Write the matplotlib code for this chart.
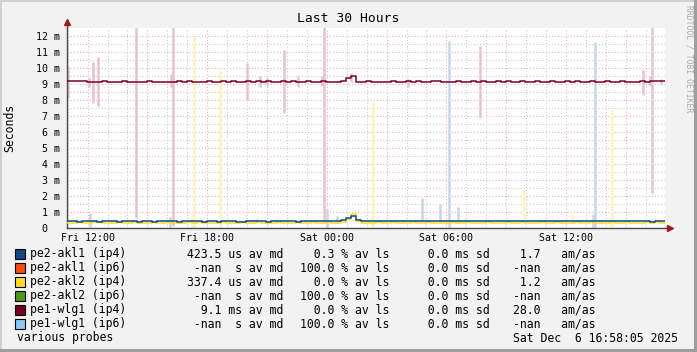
# plot.py - SmokePing style "Last 30 Hours" multi-probe latency graph
import pandas as pd
import numpy as np
import matplotlib
matplotlib.use("Agg")
import matplotlib.pyplot as plt
import matplotlib.dates as mdates
from matplotlib.patches import Rectangle

plt.rcParams["font.family"] = ["DejaVu Sans Mono", "DejaVu Sans"]

W, H = 697, 352
start = pd.Timestamp("2025-12-05 10:58:05")
t = pd.date_range(start, periods=121, freq="15min")

# median RTT, milliseconds, one value per 15 min
wlg1_v4 = [
    9.19, 9.19, 9.19, 9.19, 9.13, 9.13, 9.13, 9.16, 9.13, 9.13,
    9.13, 9.17, 9.13, 9.13, 9.13, 9.13, 9.17, 9.13, 9.13, 9.13,
    9.13, 9.13, 9.17, 9.13, 9.17, 9.13, 9.13, 9.13, 9.19, 9.13,
    9.13, 9.19, 9.13, 9.19, 9.13, 9.13, 9.19, 9.13, 9.19, 9.13,
    9.19, 9.13, 9.13, 9.19, 9.13, 9.19, 9.13, 9.13, 9.19, 9.13,
    9.13, 9.19, 9.13, 9.13, 9.13, 9.19, 9.35, 9.50, 9.13, 9.13,
    9.19, 9.13, 9.13, 9.13, 9.13, 9.19, 9.13, 9.13, 9.19, 9.13,
    9.19, 9.13, 9.13, 9.19, 9.19, 9.13, 9.13, 9.13, 9.19, 9.13,
    9.13, 9.19, 9.13, 9.19, 9.13, 9.13, 9.19, 9.13, 9.19, 9.13,
    9.13, 9.19, 9.13, 9.13, 9.19, 9.13, 9.13, 9.19, 9.13, 9.13,
    9.19, 9.13, 9.19, 9.13, 9.13, 9.19, 9.13, 9.13, 9.19, 9.13,
    9.13, 9.19, 9.13, 9.13, 9.13, 9.19, 9.13, 9.19, 9.19, 9.19,
    9.19,
]
akl1_v4 = [
    0.46, 0.46, 0.40, 0.46, 0.46, 0.46, 0.40, 0.46, 0.46, 0.46,
    0.40, 0.46, 0.46, 0.46, 0.40, 0.46, 0.46, 0.40, 0.46, 0.46,
    0.46, 0.46, 0.40, 0.46, 0.46, 0.46, 0.46, 0.40, 0.46, 0.46,
    0.40, 0.46, 0.46, 0.46, 0.40, 0.40, 0.46, 0.46, 0.46, 0.46,
    0.40, 0.46, 0.46, 0.46, 0.46, 0.46, 0.40, 0.46, 0.46, 0.46,
    0.46, 0.46, 0.46, 0.46, 0.46, 0.48, 0.62, 0.72, 0.48, 0.46,
    0.46, 0.46, 0.46, 0.46, 0.46, 0.46, 0.46, 0.46, 0.46, 0.46,
    0.46, 0.46, 0.46, 0.46, 0.46, 0.46, 0.46, 0.46, 0.46, 0.46,
    0.46, 0.46, 0.46, 0.46, 0.46, 0.46, 0.46, 0.46, 0.46, 0.46,
    0.46, 0.46, 0.46, 0.46, 0.46, 0.46, 0.46, 0.46, 0.46, 0.46,
    0.46, 0.46, 0.46, 0.46, 0.46, 0.46, 0.46, 0.46, 0.46, 0.46,
    0.46, 0.46, 0.46, 0.46, 0.46, 0.46, 0.46, 0.38, 0.46, 0.46,
    0.46,
]
akl2_v4 = [
    0.29, 0.29, 0.35, 0.29, 0.29, 0.35, 0.35, 0.29, 0.29, 0.29,
    0.35, 0.29, 0.29, 0.35, 0.29, 0.29, 0.29, 0.35, 0.29, 0.29,
    0.35, 0.29, 0.29, 0.29, 0.35, 0.29, 0.35, 0.29, 0.29, 0.29,
    0.29, 0.35, 0.29, 0.29, 0.29, 0.35, 0.29, 0.29, 0.35, 0.29,
    0.29, 0.29, 0.35, 0.29, 0.29, 0.29, 0.35, 0.29, 0.29, 0.35,
    0.29, 0.29, 0.35, 0.29, 0.29, 0.35, 0.55, 0.88, 0.45, 0.29,
    0.29, 0.29, 0.35, 0.29, 0.29, 0.35, 0.29, 0.29, 0.29, 0.35,
    0.29, 0.29, 0.35, 0.29, 0.29, 0.29, 0.29, 0.35, 0.29, 0.29,
    0.35, 0.29, 0.29, 0.29, 0.35, 0.29, 0.29, 0.29, 0.35, 0.29,
    0.29, 0.35, 0.29, 0.29, 0.29, 0.35, 0.29, 0.29, 0.35, 0.29,
    0.29, 0.29, 0.35, 0.29, 0.29, 0.35, 0.29, 0.29, 0.29, 0.35,
    0.29, 0.29, 0.35, 0.29, 0.29, 0.29, 0.35, 0.29, 0.35, 0.29,
    0.29,
]

# smoke (min..max of the pings), hours after start
wlg1_smoke_h = [0.05, 1.1, 1.3, 1.55, 3.45, 5.2, 5.3, 9.05, 9.7, 10.05, 10.9, 11.6,
                12.8, 12.9, 14.25, 17.1, 20.7, 28.9, 29.25, 29.35, 29.8]
wlg1_smoke_lo = [8.1, 8.8, 7.8, 7.6, 0.6, 8.8, 0.1, 8.0, 8.8, 8.9, 7.2, 8.8,
                 8.9, 0.3, 9.1, 8.8, 6.9, 8.3, 8.9, 2.2, 9.0]
wlg1_smoke_hi = [10.1, 9.4, 10.4, 10.7, 12.6, 9.6, 12.6, 10.3, 9.5, 9.4, 11.1, 9.5,
                 9.5, 12.6, 9.7, 9.3, 11.4, 9.9, 9.5, 12.6, 9.3]
akl1_smoke_h = [1.15, 5.15, 9.55, 10.55, 11.65, 13.05, 13.55, 17.8, 18.7, 19.15,
                19.6, 19.95, 26.4, 26.5]
akl1_smoke_lo = [0.05, 0.08, 0.3, 0.3, 0.3, 0.0, 0.3, 0.35, 0.35, 0.0,
                 0.35, 0.35, 0.0, 0.0]
akl1_smoke_hi = [0.95, 0.7, 0.55, 0.55, 0.55, 1.2, 0.75, 1.9, 1.5, 11.7,
                 1.3, 0.55, 0.85, 11.6]
akl2_smoke_h = [6.25, 6.35, 7.7, 15.25, 15.35, 22.95, 25.35, 27.25, 27.35]
akl2_smoke_lo = [0.0, 0.0, 0.0, 0.2, 0.0, 0.3, 0.3, 0.2, 0.0]
akl2_smoke_hi = [0.9, 12.0, 9.9, 0.6, 7.9, 2.4, 0.9, 0.6, 7.4]

# legend table
names = ["pe2-akl1 (ip4)", "pe2-akl1 (ip6)", "pe2-akl2 (ip4)",
         "pe2-akl2 (ip6)", "pe1-wlg1 (ip4)", "pe1-wlg1 (ip6)"]
colors = ["#0d4a87", "#ff4a0f", "#ffdc1e", "#4e981a", "#780024", "#86c8f8"]
med_val = ["423.5", "-nan", "337.4", "-nan", "9.1", "-nan"]
med_unit = ["us", " s", "us", " s", "ms", " s"]
loss_val = ["0.3", "100.0", "0.0", "100.0", "0.0", "100.0"]
sd_val = ["0.0", "0.0", "0.0", "0.0", "0.0", "0.0"]
amas_val = ["1.7", "-nan", "1.2", "-nan", "28.0", "-nan"]
ylabels = ["0  "] + [f"{i} m" for i in range(1, 13)]

smoke_cols = {"wlg1": "#e6c3cc", "akl1": "#c9d6e4", "akl2": "#fff3bd"}


def fx(px):
    return px / W


def fy(py):
    return 1 - py / H


fig = plt.figure(figsize=(W / 100, H / 100), dpi=100, facecolor="#f2f2f2")
ax = fig.add_axes([fx(67), fy(228), fx(665) - fx(67), fy(28) - fy(228)])
ax.set_facecolor("white")

for h, lo, hi, c in [(akl2_smoke_h, akl2_smoke_lo, akl2_smoke_hi, smoke_cols["akl2"]),
                     (akl1_smoke_h, akl1_smoke_lo, akl1_smoke_hi, smoke_cols["akl1"]),
                     (wlg1_smoke_h, wlg1_smoke_lo, wlg1_smoke_hi, smoke_cols["wlg1"])]:
    xs = [start + pd.to_timedelta(v, unit="h") for v in h]
    ax.vlines(xs, lo, hi, colors=c, lw=1.8, zorder=1.8)

ax.plot(t, akl2_v4, drawstyle="steps-post", color=colors[2], lw=1.1, zorder=3)
ax.plot(t, akl1_v4, drawstyle="steps-post", color=colors[0], lw=1.1, zorder=3)
ax.plot(t, wlg1_v4, drawstyle="steps-post", color=colors[4], lw=1.1, zorder=3)

ax.set_xlim(start, start + pd.Timedelta(hours=30))
ax.set_ylim(0, 12.5)

ax.xaxis.set_major_locator(mdates.HourLocator(byhour=range(0, 24, 3)))
ax.xaxis.set_minor_locator(mdates.HourLocator())


def xfmt(x, pos):
    d = mdates.num2date(x)
    return d.strftime("%a %H:%M") if d.hour % 6 == 0 else ""


ax.xaxis.set_major_formatter(plt.FuncFormatter(xfmt))
ax.set_yticks(range(13))
ax.set_yticklabels(ylabels)
ax.set_yticks(np.arange(0.5, 12.5, 1.0), minor=True)
ax.tick_params(which="both", length=0, labelsize=7.2)
ax.tick_params(axis="y", pad=5)
ax.tick_params(axis="x", pad=3.5)

ax.grid(which="major", color="#f4aaaa", ls=(0, (1, 2)), lw=0.75, zorder=1.5)
ax.grid(which="minor", color="#c8c8c8", ls=(0, (1, 2)), lw=0.75, zorder=1.5)
ax.set_axisbelow(True)

for s in ["top", "right"]:
    ax.spines[s].set_visible(False)
for s in ["left", "bottom"]:
    ax.spines[s].set_color("#4a4a4a")
    ax.spines[s].set_linewidth(1.0)

# axis arrows
ax.plot([0, 0], [1, 1.03], transform=ax.transAxes, color="#4a4a4a", lw=1.0, clip_on=False)
ax.plot([1, 1.008], [0, 0], transform=ax.transAxes, color="#4a4a4a", lw=1.0, clip_on=False)
ax.plot([0], [1.03], marker="^", ms=4.5, color="#9c1a1a", transform=ax.transAxes, clip_on=False)
ax.plot([1.008], [0], marker=">", ms=4.5, color="#9c1a1a", transform=ax.transAxes, clip_on=False)

fig.text(0.5, fy(19), "Last 30 Hours", ha="center", va="center", fontsize=9.4)
fig.text(fx(10), fy(128), "Seconds", rotation=90, ha="center", va="center", fontsize=8.3)
fig.text(fx(689), fy(5), "RRDTOOL / TOBI OETIKER", rotation=270, ha="center", va="top",
         fontsize=5.8, color="#ababab")

fs = 8.3
for i in range(len(names)):
    y = fy(254 + 14 * i)
    sq = Rectangle((fx(15), y - 5 / H), 10 / W, 10 / H, transform=fig.transFigure,
                   facecolor=colors[i], edgecolor="black", lw=0.8)
    fig.add_artist(sq)
    fig.text(fx(30), y, names[i], va="center", fontsize=fs)
    fig.text(fx(187), y, f"{med_val[i]:>5} {med_unit[i]} av md", va="center", fontsize=fs)
    fig.text(fx(300), y, f"{loss_val[i]:>5} % av ls", va="center", fontsize=fs)
    fig.text(fx(414), y, f"{sd_val[i]:>5} ms sd", va="center", fontsize=fs)
    fig.text(fx(513), y, f"{amas_val[i]:>4}   am/as", va="center", fontsize=fs)

fig.text(fx(17), fy(338), "various probes", va="center", fontsize=fs)
fig.text(fx(513), fy(338), "Sat Dec  6 16:58:05 2025", va="center", fontsize=fs)

# rrdtool style 3d frame
for (x0, y0, w, h, c) in [(0, 1 - 2 / H, 1, 2 / H, "#cfcfcf"), (0, 0, 2 / W, 1, "#cfcfcf"),
                          (1 - 3 / W, 0, 3 / W, 1, "#9e9e9e"), (0, 0, 1, 3 / H, "#9e9e9e")]:
    fig.add_artist(Rectangle((x0, y0), w, h, transform=fig.transFigure, color=c, lw=0))

fig.savefig("out.png", dpi=100, facecolor=fig.get_facecolor())
